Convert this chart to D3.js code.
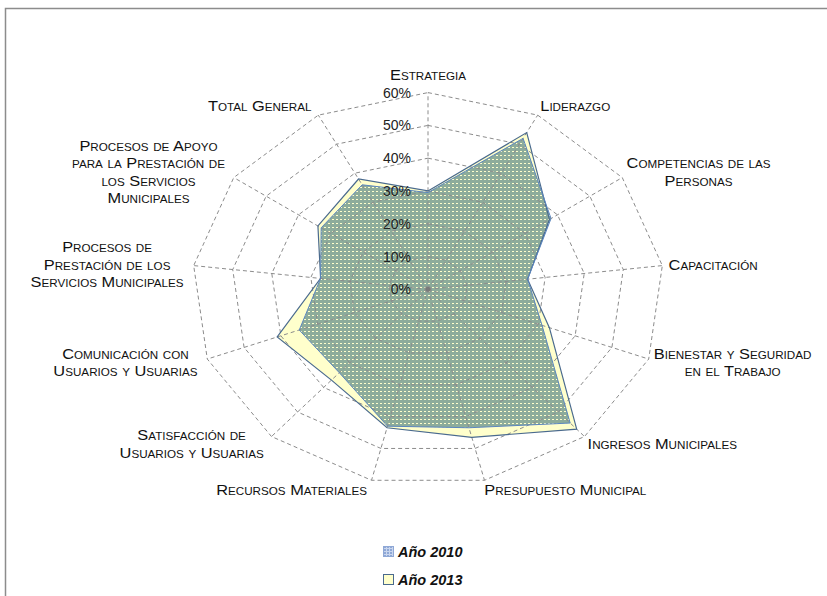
<!DOCTYPE html>
<html><head><meta charset="utf-8">
<script src="https://cdn.jsdelivr.net/npm/d3@7"></script>
<style>
body{margin:0;background:#fff;}
text{font-family:"Liberation Sans",Arial,sans-serif;}
.cat{font-variant:small-caps;font-size:14.5px;fill:#111;}
.tick{font-size:14px;fill:#222;}
.leg{font-size:14.5px;font-weight:bold;font-style:italic;fill:#111;}
</style></head><body><svg id="chart" width="827" height="596"></svg>
<script>
const categories = ["Estrategia","Liderazgo","Competencias de las\nPersonas","Capacitación","Bienestar y Seguridad\nen el Trabajo","Ingresos Municipales","Presupuesto Municipal","Recursos Materiales","Satisfacción de\nUsuarios y Usuarias","Comunicación con\nUsuarios y Usuarias","Procesos de\nPrestación de los\nServicios Municipales","Procesos de Apoyo\npara la Prestación de\nlos Servicios\nMunicipales","Total General"];
const values2010 = [29.5, 52, 38, 25.5, 31, 54.5, 43.5, 43, 34, 35, 27.5, 33, 36];
const values2013 = [30, 54, 37.5, 25.5, 33, 57, 46.5, 43.5, 37, 41, 27.5, 34, 38];
const tickValues = [0, 10, 20, 30, 40, 50, 60];
const seriesNames = ["Año 2010", "Año 2013"];

const svg = d3.select("#chart");
const cx = 428, cy = 289.3, stretchX = 1.2, textStretch = 1.13;
const n = categories.length;
const r = d3.scaleLinear().domain([0, 60]).range([0, 196.7]);
const angle = d3.scaleLinear().domain([0, n]).range([0, 2 * Math.PI]);
const point = (i, v) => [cx + stretchX * r(v) * Math.sin(angle(i)), cy - r(v) * Math.cos(angle(i))];

const defs = svg.append("defs");
const pat = defs.append("pattern").attr("id", "p2010").attr("width", 4).attr("height", 4).attr("patternUnits", "userSpaceOnUse");
pat.append("rect").attr("x", 0).attr("y", 0).attr("width", 4).attr("height", 3).attr("fill", "#8dac9b");
pat.append("rect").attr("x", 2).attr("y", 3).attr("width", 2).attr("height", 1).attr("fill", "#8dac9b");
const patL = defs.append("pattern").attr("id", "p2010leg").attr("width", 3).attr("height", 3).attr("patternUnits", "userSpaceOnUse");
patL.append("rect").attr("width", 3).attr("height", 3).attr("fill", "#c9d6ee");
patL.append("rect").attr("width", 2).attr("height", 2).attr("fill", "#8fa8d6");

// chart border
svg.append("rect").attr("x", 5.5).attr("y", 8.5).attr("width", 830).attr("height", 600)
  .attr("fill", "none").attr("stroke", "#8c8c8c").attr("stroke-width", 1.5);

const line = d3.line().curve(d3.curveLinearClosed);
const idx = d3.range(n);

// series fills
svg.append("path").attr("d", line(idx.map(i => point(i, values2013[i]))))
  .attr("fill", "#ffffcc").attr("stroke", "none");
svg.append("path").attr("d", line(idx.map(i => point(i, values2010[i]))))
  .attr("fill", "url(#p2010)").attr("stroke", "none");

// grid
const grid = svg.append("g").attr("fill", "none").attr("stroke", "#8c8c8c").attr("stroke-width", 1).attr("stroke-dasharray", "4,3");
tickValues.filter(t => t > 0).forEach(t => {
  grid.append("path").attr("d", line(idx.map(i => point(i, t))));
});
idx.forEach(i => {
  const [x2, y2] = point(i, 60);
  grid.append("line").attr("x1", cx).attr("y1", cy).attr("x2", x2).attr("y2", y2);
});
svg.append("circle").attr("cx", cx).attr("cy", cy).attr("r", 2.5).attr("fill", "#7a7a7a");

// series borders
svg.append("path").attr("d", line(idx.map(i => point(i, values2013[i]))))
  .attr("fill", "none").attr("stroke", "#4a6a8e").attr("stroke-width", 1.2);
svg.append("path").attr("d", line(idx.map(i => point(i, values2010[i]))))
  .attr("fill", "none").attr("stroke", "#5b86c0").attr("stroke-width", 1);

// tick labels
svg.selectAll("text.tick").data(tickValues).join("text").attr("class", "tick")
  .attr("x", cx - 17).attr("y", d => cy - r(d)).attr("text-anchor", "end")
  .attr("dominant-baseline", "central").text(d => d + "%");

// category labels
const lineH = 17.5;
categories.forEach((c, i) => {
  const a = angle(i), s = Math.sin(a), co = Math.cos(a);
  const [vx, vy] = point(i, 60);
  const lines = c.split("\n");
  const g = svg.append("g");
  const inner = g.append("g");
  const texts = inner.selectAll("text").data(lines).join("text").attr("class", "cat")
    .attr("text-anchor", "middle").attr("dominant-baseline", "central").text(d => d);
  const w = d3.max(texts.nodes(), nd => nd.getComputedTextLength()) * textStretch;
  const h = lines.length * lineH;
  let bx, by;
  if (Math.abs(s) < 0.05) { bx = vx; by = vy - 9 - h / 2; }
  else {
    bx = s > 0 ? vx + 7.5 * s + w / 2 : vx + 7.5 * s - 4.5 - w / 2;
    by = vy - co * 10;
  }
  g.attr("transform", `translate(${bx},${by})`);
  inner.attr("transform", `scale(${textStretch},1)`);
  texts.attr("x", 0).attr("y", (d, k) => (k - (lines.length - 1) / 2) * lineH);
});

// legend
const legX = 383, legY = 546, legGap = 28;
const legFills = ["url(#p2010leg)", "#ffffcc"];
const legStrokes = ["#8fa8d6", "#4a6a8e"];
seriesNames.forEach((s, k) => {
  svg.append("rect").attr("x", legX + 0.5).attr("y", legY + k * legGap + 0.5).attr("width", 10).attr("height", 10)
    .attr("fill", legFills[k]).attr("stroke", legStrokes[k]).attr("stroke-width", 1);
  svg.append("text").attr("class", "leg").attr("x", legX + 15).attr("y", legY + k * legGap + 5.5)
    .attr("dominant-baseline", "central").text(s);
});
</script></body></html>
